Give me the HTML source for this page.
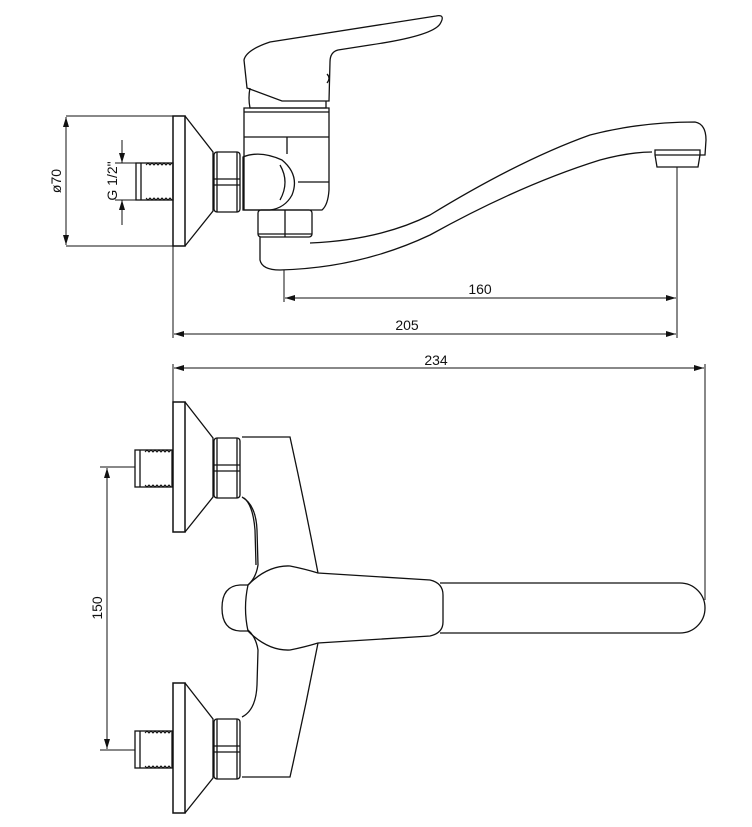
<!DOCTYPE html>
<html><head><meta charset="utf-8"><style>
html,body{margin:0;padding:0;background:#fff}
svg{display:block}
text{font-family:"Liberation Sans",sans-serif;font-size:14px;fill:#111}
</style></head><body>
<svg width="752" height="827" viewBox="0 0 752 827" xmlns="http://www.w3.org/2000/svg">
<defs>
<marker id="a" viewBox="0 0 10 6" refX="10" refY="3" markerWidth="10" markerHeight="6" orient="auto-start-reverse" markerUnits="userSpaceOnUse"><path d="M0,0L10,3L0,6z" fill="#111"/></marker>
<g id="thread">
<rect x="0" y="0" width="37" height="37" fill="none" stroke="#111" stroke-width="1.3"/>
<line x1="5" y1="0" x2="5" y2="37" stroke="#111"/>
<path d="M10,2 l2,-2 l2,2 l2,-2 l2,2 l2,-2 l2,2 l2,-2 l2,2 l2,-2 l2,2 l2,-2 l2,2 l2,-2" fill="none" stroke="#111" stroke-width="1"/>
<path d="M10,35 l2,2 l2,-2 l2,2 l2,-2 l2,2 l2,-2 l2,2 l2,-2 l2,2 l2,-2 l2,2 l2,-2 l2,2" fill="none" stroke="#111" stroke-width="1"/>
</g>
<g id="fit">
<rect x="173" y="0" width="12" height="130" fill="none" stroke="#111" stroke-width="1.5"/>
<path d="M185,0 L213,36 L213,95 L185,130" fill="none" stroke="#111" stroke-width="1.3"/>
<rect x="214" y="36" width="26" height="60" rx="3" fill="none" stroke="#111" stroke-width="1.3"/>
<line x1="217" y1="36" x2="217" y2="96" stroke="#111"/>
<line x1="237" y1="36" x2="237" y2="96" stroke="#111"/>
<line x1="214" y1="63" x2="240" y2="63" stroke="#111"/>
<line x1="214" y1="69" x2="240" y2="69" stroke="#111"/>
</g>
</defs>
<g fill="none" stroke="#111" stroke-width="1.3">
<!-- TOP VIEW -->
<use href="#fit" y="116"/>
<use href="#thread" x="136" y="163"/>
<!-- handle -->
<path d="M244,60 Q246,50 270,42 L436,16 Q446,14 440,24 Q432,36 370,45 L338,50 Q330,52 330,62 L329,101 L282,101 L247,88 Z"/>
<path d="M250,88 Q248,98 250,108 L326,108 L326,101"/>
<path d="M327,74 q4,4 0,9"/>
<!-- body -->
<path d="M244,108 L329,108 L329,190 Q328,205 322,210 L244,210 Z"/>
<line x1="244" y1="112" x2="329" y2="112"/>
<line x1="244" y1="137" x2="329" y2="137"/>
<line x1="287" y1="137" x2="287" y2="154"/>
<line x1="298" y1="182" x2="329" y2="182"/>
<path d="M243,157 Q260,150 282,160 Q300,175 292,195 Q285,208 270,210 L243,210 Z"/>
<path d="M280,165 Q290,182 280,200"/>
<!-- lower nuts -->
<rect x="258" y="210" width="54" height="27" rx="3"/>
<line x1="285" y1="210" x2="285" y2="237"/>
<line x1="258" y1="234" x2="312" y2="234"/>
<!-- spout -->
<path d="M260,237 L260,260 Q262,270 280,270 Q360,268 430,235 Q520,185 600,160 Q630,152 652,152"/>
<path d="M310,243 Q380,240 430,215 Q520,160 590,135 Q640,122 695,122 Q706,124 706,140 L705,155 L700,155"/>
<path d="M655,150 L700,150 L700,155 L698,167 L657,167 L655,155 Z"/>
<line x1="655" y1="155" x2="700" y2="155"/>
</g>
<g fill="none" stroke="#111" stroke-width="1">
<!-- dims top -->
<line x1="66" y1="116" x2="173" y2="116"/><line x1="66" y1="246" x2="173" y2="246"/>
<line x1="66" y1="117" x2="66" y2="245" marker-start="url(#a)" marker-end="url(#a)"/>
<line x1="115" y1="163" x2="136" y2="163"/><line x1="115" y1="200" x2="136" y2="200"/>
<line x1="122" y1="140" x2="122" y2="163" marker-end="url(#a)"/>
<line x1="122" y1="225" x2="122" y2="200" marker-end="url(#a)"/>
<line x1="284" y1="270" x2="284" y2="302"/>
<line x1="677" y1="167" x2="677" y2="338"/>
<line x1="173" y1="246" x2="173" y2="338"/>
<line x1="285" y1="298" x2="676" y2="298" marker-start="url(#a)" marker-end="url(#a)"/>
<line x1="174" y1="334" x2="676" y2="334" marker-start="url(#a)" marker-end="url(#a)"/>
<line x1="173" y1="364" x2="173" y2="402"/>
<line x1="705" y1="364" x2="705" y2="600"/>
<line x1="174" y1="368" x2="704" y2="368" marker-start="url(#a)" marker-end="url(#a)"/>
<!-- 150 -->
<line x1="100" y1="467" x2="135" y2="467"/><line x1="100" y1="750" x2="135" y2="750"/>
<line x1="107" y1="468" x2="107" y2="749" marker-start="url(#a)" marker-end="url(#a)"/>
</g>
<text x="407" y="330" text-anchor="middle">205</text>
<text x="480" y="294" text-anchor="middle">160</text>
<text x="436" y="365" text-anchor="middle">234</text>
<text transform="translate(61,181) rotate(-90)" text-anchor="middle">ø70</text>
<text transform="translate(117,181) rotate(-90)" text-anchor="middle">G 1/2"</text>
<text transform="translate(102,608) rotate(-90)" text-anchor="middle">150</text>
<g fill="none" stroke="#111" stroke-width="1.3">
<!-- BOTTOM VIEW -->
<use href="#fit" y="402"/>
<use href="#fit" y="683"/>
<use href="#thread" x="135" y="450"/>
<use href="#thread" x="135" y="731"/>
<path d="M242,437 L290,437 Q305,505 318,573"/>
<path d="M318,643 Q305,710 290,777 L242,777"/>
<path d="M242,497 Q256,505 257,530 L258,565 Q256,578 248,585"/>
<path d="M244,498 Q253,505 255,530 L256,565"/>
<path d="M242,717 Q256,710 257,685 L258,650 Q256,637 248,630"/>
<path d="M222,608 Q222,586 240,585 L248,585 M222,608 Q222,630 240,631 L248,631"/>
<path d="M248,585 Q268,565 290,566 Q305,569 318,573 L430,580 Q443,583 443,595 L443,622 Q443,633 430,636 L318,643 Q305,647 290,650 Q268,651 248,631 Q243,608 248,585 Z"/>
<path d="M440,583 L680,583 A25,25 0 0 1 680,633 L440,633"/>
</g>
</svg>
</body></html>
